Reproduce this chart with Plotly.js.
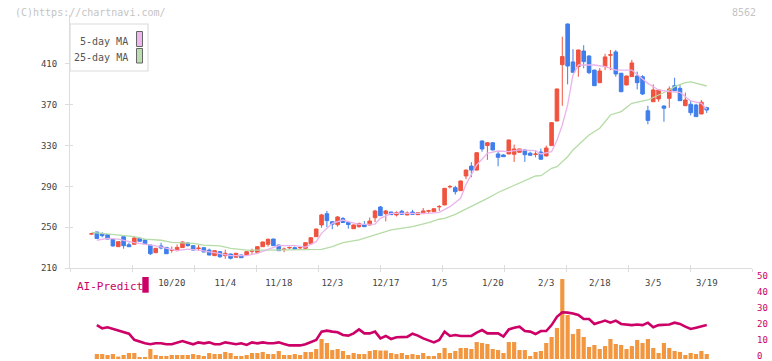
<!DOCTYPE html>
<html>
<head>
<meta charset="utf-8">
<script src="https://cdn.plot.ly/plotly-3.0.1.min.js"></script>
<style>html,body{margin:0;padding:0;background:#fff;}#chart{width:772px;height:361px;}</style>
</head>
<body>
<div id="chart"></div>
<script>
// ---- candle data (trading-day index 0..115, 9/26 .. 3/19) ----
var openP = [
243.3,245.3,243.6,242.7,238.1,230.9,240.7,232.8,233.3,239.1,
237.5,232.5,225.0,231.6,230.2,227.4,227.0,230.0,234.5,231.9,
229.1,229.9,227.6,222.1,226.0,222.1,223.7,220.5,222.7,222.7,
226.5,225.4,230.9,233.2,238.4,232.5,228.1,229.7,229.9,229.7,
229.3,233.8,240.7,252.2,263.2,255.4,252.4,258.5,254.6,248.5,
250.5,252.5,252.2,259.3,269.8,263.3,264.9,262.0,265.6,262.0,
264.9,262.3,263.3,265.7,265.2,269.9,271.8,289.5,288.7,285.8,
300.2,309.9,306.0,334.5,330.0,332.8,321.8,320.8,321.8,321.5,
323.4,325.7,322.5,321.3,323.7,319.8,330.0,354.1,409.3,449.2,
412.0,407.3,422.7,417.8,404.0,391.6,407.4,418.6,421.8,400.9,
389.4,397.6,398.2,397.5,364.1,373.0,375.7,368.8,376.3,388.7,
386.1,369.1,370.5,369.8,361.0,367.2];
var highP = [
244.0,245.5,245.0,243.0,238.5,236.0,241.0,235.0,241.0,239.5,
238.0,233.0,229.5,234.8,230.5,231.0,233.0,236.0,235.5,232.2,
232.4,230.2,229.0,227.3,226.3,228.0,224.0,224.8,223.0,226.3,
229.0,231.2,235.8,239.0,238.7,232.8,230.0,231.0,231.0,231.5,
235.2,240.0,248.5,263.0,266.0,255.8,261.0,260.0,255.5,252.5,
254.5,256.0,259.5,267.0,270.8,267.0,265.2,265.5,267.0,265.5,
267.0,264.5,268.8,267.0,268.5,271.7,288.5,291.3,290.5,295.6,
306.3,313.7,323.3,335.0,333.5,333.1,324.0,321.5,335.8,331.0,
327.0,326.0,324.0,324.5,327.0,330.0,352.8,385.8,436.7,449.5,
424.5,424.0,428.4,418.5,404.3,406.0,420.0,423.7,423.7,401.2,
398.5,414.0,402.4,399.0,369.0,390.0,384.8,369.5,388.0,396.5,
390.0,382.0,374.7,371.0,374.7,368.0];
var lowP = [
243.0,238.7,240.0,238.1,231.0,230.6,228.9,230.5,233.0,235.9,
233.5,222.7,224.7,228.3,223.7,225.0,226.5,229.7,231.0,227.0,
226.7,225.4,222.4,221.8,220.0,219.0,218.5,220.2,219.8,222.4,
223.0,225.1,230.6,231.0,231.6,226.7,225.5,228.5,228.0,228.3,
229.0,233.5,240.4,249.4,250.0,248.0,250.5,254.3,248.5,248.2,
249.5,250.2,251.9,255.0,261.0,255.7,262.0,260.5,262.3,261.7,
262.3,262.0,263.0,264.0,264.9,266.0,271.5,288.0,282.0,285.5,
297.0,299.0,305.7,324.0,316.0,325.4,309.7,318.8,321.5,314.0,
323.1,314.0,320.2,318.5,316.3,319.5,329.7,353.8,369.0,390.0,
401.5,397.5,405.8,400.0,388.4,391.3,404.0,404.0,397.5,382.5,
389.1,397.3,385.0,379.5,350.9,372.7,373.0,353.3,367.0,383.5,
373.7,368.8,359.6,358.1,360.7,362.0];
var closeP = [
243.5,239.0,241.7,238.4,231.6,235.8,231.9,230.9,239.4,236.2,
233.8,224.0,229.3,229.6,224.0,227.8,230.2,235.5,231.9,227.6,
229.5,225.7,222.7,227.0,221.0,224.4,219.5,224.4,220.1,226.0,
226.9,230.9,235.5,238.1,231.9,227.0,228.5,230.1,228.3,230.1,
234.8,239.7,248.2,262.0,256.4,253.0,260.0,254.6,252.6,252.2,
253.4,250.5,256.0,265.9,261.3,265.9,262.3,264.2,262.6,264.0,
262.6,264.2,265.9,266.1,268.1,270.3,288.1,289.9,284.8,295.3,
306.0,306.0,323.0,326.7,332.8,325.7,318.5,319.1,335.5,326.7,
326.7,321.1,320.5,321.7,316.6,327.6,352.5,385.5,417.2,408.0,
401.8,423.7,412.3,401.5,388.7,403.1,416.9,419.0,400.2,382.8,
398.2,411.0,391.7,380.6,354.7,384.5,384.5,366.6,385.5,383.8,
374.0,374.7,362.3,358.4,372.5,364.9];

// ---- moving averages ----
var ma5Idx = [1,3,5,8,12,14,16,18,20,23,26,29,31,33,35,38,40,42,43,45,47,48,50,53,54,56,60,63,65,67,69,70,72,74,76,78,80,83,84,86,87,88,89,90,91,94,96,98,101,102,104,106,108,110,112,114,115];
var ma5Val = [237.2,239.1,238.4,234.8,231.6,229.3,227,228.6,227.6,225,222.1,222.1,224.4,228.3,231.9,231.9,230.5,235.8,244,253.8,257,255.4,252.8,253.1,258.7,263.6,263.6,263.6,264.6,270.1,278.3,292,311,322.5,324.7,324.1,325.7,325,321.8,324.1,335,350.2,369.8,399.2,409,409,407.4,404,404,399.8,391,384.5,382.8,382.2,373.7,371.5,365.6];
var ma25Idx = [0,2,3,6,8,10,13,15,19,21,24,26,29,33,38,43,45,47,50,53,56,60,63,65,66,68,71,74,76,80,83,84,86,87,89,90,92,93,95,97,99,101,104,106,108,109,111,112,113,115];
var ma25Val = [245,244,243.6,242,240.7,238.4,237.2,235.2,234.2,232.5,231.6,229.3,227.6,227.6,227.6,228.3,230.9,234.8,237.5,242.4,247.3,250.5,254.4,257.8,258.7,262.5,270,278.3,284,293,300.2,300.5,307.7,309.3,319.1,325.7,335.5,340.4,347,360,363.3,371.5,374.7,379.6,384.5,387.8,391.7,392.4,391,388.4];

// ---- AI-Predict panel (index 1..115) ----
var aiStart = 1;
var aiPredict = [21.2,19.2,19.8,18.8,18.1,17.1,15.8,12.0,10.8,9.8,
9.2,9.8,9.8,9.2,9.2,10.4,11.2,10.2,9.2,10.4,
9.8,10.4,9.2,9.2,10.4,9.8,9.2,9.8,8.8,10.4,
9.8,10.4,9.8,9.8,10.4,9.4,8.5,8.5,8.5,9.2,
10.4,11.9,17.1,17.7,17.1,16.7,15.0,14.6,16.0,18.5,
16.0,16.0,17.1,12.9,14.4,12.5,13.6,13.8,13.8,15.8,
14.6,12.9,11.5,10.4,11.9,17.1,14.4,15.0,14.4,14.4,
14.4,16.5,18.1,16.0,16.0,16.0,14.0,18.5,19.5,20.2,
17.5,17.1,15.6,17.5,17.5,21.2,26.4,29.2,29.0,28.5,
27.5,25.0,25.0,21.9,22.9,24.0,22.7,24.0,21.9,21.6,
21.2,21.6,21.2,22.7,19.8,21.2,21.2,21.6,22.7,21.9,
20.2,18.8,19.6,20.6,21.2];
var volume = [3.1,3.1,2.5,3.1,1.5,2.5,3.75,3.75,1.25,1.25,
6.25,2.5,1.9,1.9,2.5,2.5,2.5,2.5,3.1,2.5,
1.9,3.75,3.1,3.1,4.4,3.75,1.9,1.9,2.5,
3.75,3.75,4.4,3.1,3.1,5,2.5,2.5,3.1,2.5,
4.4,4.4,6.25,12.5,10,5.6,6.25,5,2.5,3.75,
3.1,3.1,5,5.6,5.3,5.3,3.75,3.1,
3.75,2.5,3.1,2.5,3.75,1.9,1.9,3.75,6.9,3.75,
5,6.9,6.9,6.25,10.6,10,9.4,6.25,5.6,3.75,
10.6,10.6,5.6,5.6,1.9,4.4,5,10,13.75,
19.4,50,27.5,15.6,18.75,13.75,7.5,8.75,6.25,8.1,
12.5,9.4,8.75,6.25,8.1,11.9,10,12.5,6.9,3.75,
10,6.9,5,4.4,2.5,3.75,3.1,5,3.1];

// ---- axis labels ----
var tickIdx = [15,25,35,45,55,65,75,85,95,105,115];
var tickText = ['10/20','11/4','11/18','12/3','12/17','1/5','1/20','2/3','2/18','3/5','3/19'];
var priceTicks = [210,250,290,330,370,410];
var aiTicks = [0,10,20,30,40,50];

var dayIdx = openP.map(function(_, i){ return i; });
var aiIdx = aiPredict.map(function(_, k){ return k + aiStart; });

var FONT = 'DejaVu Sans Mono, monospace';
var RED = '#F0533F', BLUE = '#3F7EEC';

var traces = [
  {type:'scatter', mode:'lines', x: ma25Idx, y: ma25Val, line:{color:'#B5DCA6', width:1.3}, xaxis:'x', yaxis:'y', hoverinfo:'skip'},
  {type:'scatter', mode:'lines', x: ma5Idx, y: ma5Val, line:{color:'#EBB3EB', width:1.3}, xaxis:'x', yaxis:'y', hoverinfo:'skip'},
  {type:'candlestick', x: dayIdx, open: openP, high: highP, low: lowP, close: closeP,
   increasing:{line:{color:RED, width:1}, fillcolor:RED},
   decreasing:{line:{color:BLUE, width:1}, fillcolor:BLUE},
   whiskerwidth:0, xaxis:'x', yaxis:'y'},
  {type:'bar', x: aiIdx, y: volume, marker:{color:'#F2963F', line:{width:0}}, xaxis:'x2', yaxis:'y2'},
  {type:'scatter', mode:'lines', x: aiIdx, y: aiPredict, line:{color:'#CC0066', width:2.6}, xaxis:'x2', yaxis:'y2'},
  {type:'scatter', mode:'markers', x:[], y:[], xaxis:'x3', yaxis:'y'},
  {type:'scatter', mode:'markers', x:[], y:[], xaxis:'x4', yaxis:'y'},
  {type:'scatter', mode:'markers', x:[], y:[], xaxis:'x', yaxis:'y3'},
  {type:'scatter', mode:'markers', x:[], y:[], xaxis:'x2', yaxis:'y4'}
];

function px2x(px){ return (px - 70) / 682; }
function py2y(py){ return (361 - py) / 361; }

var XR = [-4.02, 123.46];
var layout = {
  width:772, height:361,
  margin:{l:70, r:20, t:0, b:0, pad:0},
  paper_bgcolor:'#fff', plot_bgcolor:'rgba(0,0,0,0)',
  showlegend:false,
  boxgap:0.04,
  bargap:0.22,
  font:{family:FONT, size:9, color:'#444'},
  xaxis:{domain:[0,1], anchor:'y', range:XR, tickvals:tickIdx, ticktext:tickText, ticks:'', ticklabelstandoff:6,
         showline:true, linecolor:'#dcdcdc', linewidth:1, showgrid:false, zeroline:false,
         rangeslider:{visible:false}, tickfont:{family:FONT, size:9, color:'#444'}, fixedrange:true},
  yaxis:{domain:[py2y(268), py2y(15)], anchor:'x', range:[210, 458], tickvals:priceTicks, ticks:'outside', ticklen:4,
         tickcolor:'#dcdcdc', ticklabelstandoff:6, showline:true, linecolor:'#dcdcdc', linewidth:1, showgrid:false, zeroline:false,
         tickfont:{family:FONT, size:9, color:'#444'}, fixedrange:true},
  yaxis3:{overlaying:'y', anchor:'x', range:[210,458], tickvals:priceTicks, ticks:'inside', ticklen:3, tickcolor:'#dcdcdc',
          showticklabels:false, showline:false, showgrid:false, zeroline:false},
  xaxis3:{overlaying:'x', anchor:'y', range:[0,11], tickvals:[0,1,2,3,4,5,6,7,8,9,10,11], ticks:'inside', ticklen:3,
          tickcolor:'#dcdcdc', showticklabels:false, showline:false, showgrid:false, zeroline:false},
  xaxis4:{overlaying:'x', anchor:'y', range:[0,11], tickvals:[0,1,2,3,4,5,6,7,8,9,10,11], ticks:'outside', ticklen:3,
          tickcolor:'#dcdcdc', showticklabels:false, showline:false, showgrid:false, zeroline:false},
  xaxis2:{domain:[0,1], anchor:'y2', range:XR, visible:false, fixedrange:true},
  yaxis2:{domain:[py2y(359), py2y(279)], anchor:'x2', side:'right', range:[0,50], showticklabels:false, ticks:'',
          showline:false, showgrid:false, zeroline:false, fixedrange:true},
  yaxis4:{domain:[py2y(356), py2y(276)], anchor:'x2', side:'right', range:[0,50], tickvals:aiTicks, ticks:'',
          ticklabelstandoff:4, ticklabeloverflow:'allow', showline:false, showgrid:false, zeroline:false,
          tickfont:{family:FONT, size:9, color:'#CC0066'}, fixedrange:true},
  shapes:[
    {type:'rect', xref:'paper', yref:'paper', x0:px2x(70), x1:px2x(148), y0:py2y(71), y1:py2y(24), fillcolor:'#fff', line:{color:'#dcdcdc', width:1.2}, layer:'above'},
    {type:'rect', xref:'paper', yref:'paper', x0:px2x(136.5), x1:px2x(142.5), y0:py2y(46.5), y1:py2y(31.5), fillcolor:'#EEB6EE', line:{color:'#666', width:1}, layer:'above'},
    {type:'rect', xref:'paper', yref:'paper', x0:px2x(136.5), x1:px2x(142.5), y0:py2y(63), y1:py2y(48.5), fillcolor:'#BCDDAE', line:{color:'#666', width:1}, layer:'above'},
    {type:'rect', xref:'paper', yref:'paper', x0:px2x(142.3), x1:px2x(148.7), y0:py2y(292.7), y1:py2y(277), fillcolor:'#CC0066', line:{width:0}, layer:'above'}
  ],
  annotations:[
    {xref:'paper', yref:'paper', x:px2x(129.5), y:py2y(41), xanchor:'right', yanchor:'middle', text:'5-day MA', showarrow:false, font:{family:FONT, size:10, color:'#555'}},
    {xref:'paper', yref:'paper', x:px2x(129.5), y:py2y(57), xanchor:'right', yanchor:'middle', text:'25-day MA', showarrow:false, font:{family:FONT, size:10, color:'#555'}},
    {xref:'paper', yref:'paper', x:px2x(13), y:py2y(12), xanchor:'left', yanchor:'middle', text:'(C)https://chartnavi.com/', showarrow:false, font:{family:FONT, size:10, color:'#c4c4c4'}},
    {xref:'paper', yref:'paper', x:px2x(758), y:py2y(12), xanchor:'right', yanchor:'middle', text:'8562', showarrow:false, font:{family:FONT, size:10, color:'#c4c4c4'}},
    {xref:'paper', yref:'paper', x:px2x(75), y:py2y(286), xanchor:'left', yanchor:'middle', text:'AI-Predict', showarrow:false, font:{family:FONT, size:11, color:'#CC0066'}}
  ]
};

Plotly.newPlot('chart', traces, layout, {staticPlot:true, displayModeBar:false});
</script>
</body>
</html>
